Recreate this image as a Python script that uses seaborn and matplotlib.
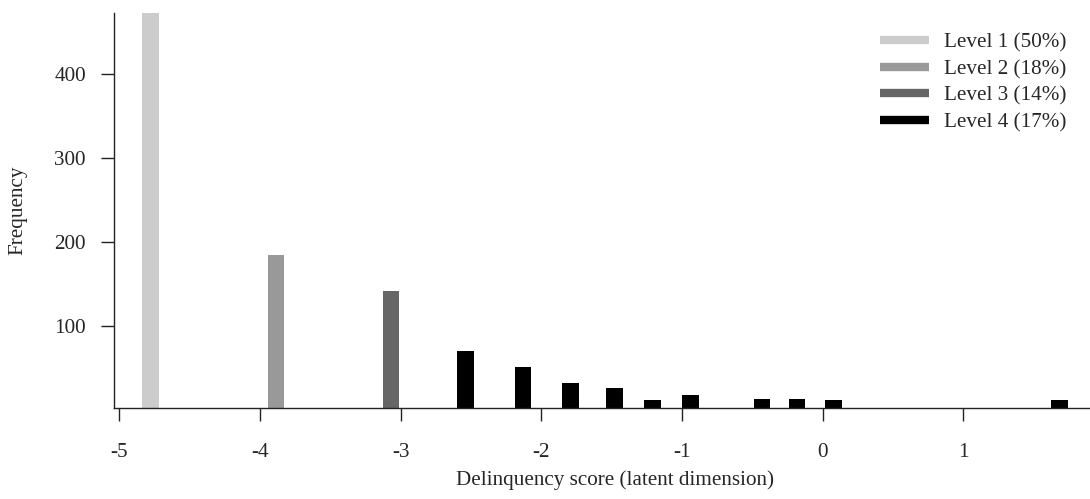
import numpy as np
import pandas as pd
import matplotlib
matplotlib.use("Agg")
import matplotlib.pyplot as plt
from matplotlib.lines import Line2D
import seaborn as sns

# latent score of each bar, its count and the level it belongs to
score = [-4.776, -3.886, -3.069, -2.539, -2.131, -1.790, -1.482,
         -1.207, -0.942, -0.432, -0.183, 0.079, 1.686]
count = [510, 184, 141, 70, 51, 32, 26, 12, 17, 13, 13, 11, 11]
level = ["Level 1 (50%)", "Level 2 (18%)", "Level 3 (14%)"] + ["Level 4 (17%)"] * 10
level_names = ["Level 1 (50%)", "Level 2 (18%)", "Level 3 (14%)", "Level 4 (17%)"]
level_colors = ["#cccccc", "#999999", "#666666", "#000000"]
x_ticks = [-5, -4, -3, -2, -1, 0, 1]
y_ticks = [100, 200, 300, 400]

sns.set_style("ticks")
plt.rcParams["font.family"] = ["Liberation Serif", "DejaVu Serif"]
plt.rcParams["axes.unicode_minus"] = False

df = pd.DataFrame({"score": score, "count": count, "level": level})

fig = plt.figure(figsize=(10.9, 4.99), dpi=100)
ax = fig.add_axes([114 / 1090, 1 - 407.5 / 499, 1 - 114 / 1090, (407.5 - 13.3) / 499])

# bar width of ~0.12 score units, expressed relative to the closest spacing
bar_w = 0.12
rel_w = bar_w / np.diff(np.sort(score)).min()
sns.barplot(data=df, x="score", y="count", hue="level", hue_order=level_names,
            palette=level_colors, native_scale=True, dodge=False, width=rel_w,
            linewidth=0, saturation=1, legend=False, ax=ax)

ax.set_xlim(-5.038, 1.9)
ax.set_ylim(2.5, 472.3)
ax.set_xticks(x_ticks)
ax.set_xticklabels([str(t) for t in x_ticks])
ax.set_yticks(y_ticks)
ax.set_yticklabels([str(t) for t in y_ticks])
sns.despine(ax=ax)
for s in ["left", "bottom"]:
    ax.spines[s].set_linewidth(1.0)
    ax.spines[s].set_color("#222222")
ax.tick_params(axis="both", direction="out", length=9.2, width=1.0,
               color="#222222", labelsize=15.2)
ax.tick_params(axis="x", pad=16.5)
ax.tick_params(axis="y", pad=11)

ax.set_xlabel("Delinquency score (latent dimension)", fontsize=15.2)
ax.set_ylabel("Frequency", fontsize=15.2)
ax.xaxis.set_label_coords(0.513, -0.16)
ax.yaxis.set_label_coords(-0.089, 0.5)

handles = [Line2D([0], [0], color=c, lw=6, solid_capstyle="butt") for c in level_colors]
fig.legend(handles, level_names, loc="upper right", bbox_to_anchor=(0.9954, 0.972),
           frameon=False, fontsize=15.2, handlelength=2.3, handletextpad=0.7,
           labelspacing=0.32)

fig.savefig("out.png", dpi=100)
